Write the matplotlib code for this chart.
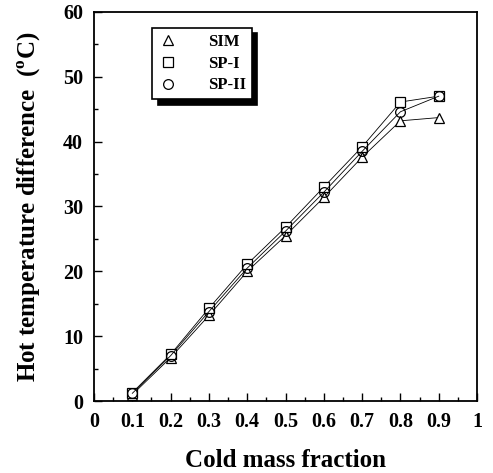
import matplotlib
matplotlib.use("Agg")
import matplotlib.pyplot as plt
from matplotlib.ticker import MultipleLocator

plt.rcParams['font.family'] = ['Liberation Serif', 'DejaVu Serif']
plt.rcParams['font.weight'] = 'bold'
plt.rcParams['mathtext.fontset'] = 'custom'
plt.rcParams['mathtext.rm'] = 'Liberation Serif:bold'

# data
cold_fraction = [0.1, 0.2, 0.3, 0.4, 0.5, 0.6, 0.7, 0.8, 0.9]
sim = [1.0, 6.7, 13.2, 20.0, 25.5, 31.4, 37.6, 43.2, 43.7]
sp1 = [1.3, 7.2, 14.3, 21.1, 26.8, 33.0, 39.2, 46.1, 47.0]
sp2 = [1.2, 7.0, 13.8, 20.5, 26.2, 32.2, 38.5, 44.6, 47.0]

fig = plt.figure(figsize=(4.93, 4.73), dpi=100)
ax = fig.add_axes([0.1907, 0.152, 0.777, 0.823])

ax.plot(cold_fraction, sim, color='black', lw=0.6, marker='^', ms=7,
        mfc='white', mec='black', mew=0.9, label='SIM')
ax.plot(cold_fraction, sp1, color='black', lw=0.6, marker='s', ms=7,
        mfc='white', mec='black', mew=0.9, label='SP-I')
ax.plot(cold_fraction, sp2, color='black', lw=0.6, marker='o', ms=7,
        mfc='none', mec='black', mew=0.9, label='SP-II')

ax.set_xlim(0, 1)
ax.set_ylim(0, 60)
ax.xaxis.set_minor_locator(MultipleLocator(0.05))
ax.yaxis.set_major_locator(MultipleLocator(10))
ax.yaxis.set_minor_locator(MultipleLocator(5))
ax.set_xticks([0, 0.1, 0.2, 0.3, 0.4, 0.5, 0.6, 0.7, 0.8, 0.9, 1.0])
ax.set_xticklabels(['0', '0.1', '0.2', '0.3', '0.4', '0.5', '0.6', '0.7', '0.8', '0.9', '1'])
ax.tick_params(which='major', direction='in', length=6, width=1, labelsize=14.5, pad=8)
ax.tick_params(which='minor', direction='in', length=3, width=1)
for lab in ax.get_xticklabels() + ax.get_yticklabels():
    lab.set_fontweight('bold')
for s in ax.spines.values():
    s.set_linewidth(1.3)

ax.set_xlabel('Cold mass fraction', fontsize=18, fontweight='bold', labelpad=12)
ax.set_ylabel('Hot temperature difference  ($^{\\mathrm{o}}$C)', fontsize=18,
              fontweight='bold', labelpad=14)

leg = ax.legend(loc='upper left', bbox_to_anchor=(0.13, 0.98), frameon=True,
                shadow={'color': 'black', 'alpha': 1, 'ox': 4, 'oy': -4},
                fancybox=False, edgecolor='black', fontsize=12,
                handlelength=1.2, handletextpad=1.8, borderpad=0.35, labelspacing=0.35)
leg.get_frame().set_linewidth(1.2)
for t in leg.get_texts():
    t.set_fontweight('bold')
for h in leg.legend_handles:
    h.set_linestyle('none')

fig.savefig('out.png', dpi=100)
